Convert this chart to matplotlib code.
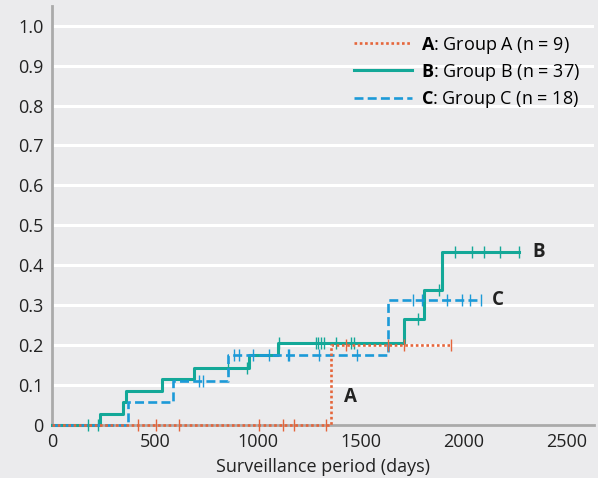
import numpy as np
import matplotlib
matplotlib.use("Agg")
import matplotlib.pyplot as plt

# Kaplan-Meier style cumulative curves
a_times = [0, 1354, 1938]
a_vals = [0, 0.200, 0.200]
a_cens = [415, 505, 614, 1006, 1120, 1176, 1330, 1427, 1630, 1707, 1938]

b_times = [0, 233, 346, 359, 532, 691, 956, 1095, 1709, 1806, 1895, 2268]
b_vals = [0, 0.027, 0.057, 0.085, 0.114, 0.143, 0.174, 0.204, 0.265, 0.337, 0.433, 0.433]
b_cens = [175, 223, 854, 945, 1102, 1282, 1293, 1304, 1320, 1379, 1453, 1468,
          1778, 1880, 1956, 2037, 2099, 2175, 2268]

c_times = [0, 369, 589, 856, 1629, 2083]
c_vals = [0, 0.056, 0.111, 0.176, 0.313, 0.313]
c_cens = [715, 731, 885, 909, 977, 1055, 1144, 1152, 1296, 1479,
          1754, 1798, 1916, 1989, 2029, 2083]

labels = [r"$\mathbf{A}$: Group A (n = 9)",
          r"$\mathbf{B}$: Group B (n = 37)",
          r"$\mathbf{C}$: Group C (n = 18)"]
x_ticks = [0, 500, 1000, 1500, 2000, 2500]
y_ticks = [0, 0.1, 0.2, 0.3, 0.4, 0.5, 0.6, 0.7, 0.8, 0.9, 1.0]
y_ticklabels = ["0", "0.1", "0.2", "0.3", "0.4", "0.5", "0.6", "0.7", "0.8", "0.9", "1.0"]

bg = "#ebebed"
col_a = "#e5653b"
col_b = "#13a898"
col_c = "#1c9ad8"

plt.rcParams["font.family"] = ["Open Sans", "DejaVu Sans"]
plt.rcParams["mathtext.fontset"] = "custom"
plt.rcParams["mathtext.rm"] = "Open Sans"
plt.rcParams["mathtext.bf"] = "Open Sans:bold"


def level_at(times, vals, t):
    idx = np.searchsorted(times, t, side="right") - 1
    return np.asarray(vals)[idx]


fig = plt.figure(figsize=(5.98, 4.78), dpi=100, facecolor=bg)
ax = fig.add_axes([0.087, 0.1113, 0.906, 0.8766], facecolor=bg)

for y in y_ticks[1:]:
    ax.axhline(y, color="white", lw=2.2, zorder=0)

series = [
    (b_times, b_vals, b_cens, col_b, "-", 2.2, 3),
    (c_times, c_vals, c_cens, col_c, (0, (3.4, 1.6)), 1.9, 4),
    (a_times, a_vals, a_cens, col_a, (0, (1, 1)), 1.9, 5),
]
handles = {}
for times, vals, cens, col, ls, lw, z in series:
    ln, = ax.step(times, vals, where="post", color=col, ls=ls, lw=lw, zorder=z,
                  clip_on=False)
    ax.plot(cens, level_at(times, vals, cens), ls="none", marker="|",
            ms=9, mew=1.0, color=col, zorder=z, clip_on=False)
    handles[col] = ln

ax.legend([handles[col_a], handles[col_b], handles[col_c]], labels,
          loc="upper right", bbox_to_anchor=(0.995, 0.957), frameon=False,
          fontsize=13, handlelength=3.2, handletextpad=0.5, labelspacing=0.34,
          borderaxespad=0.2)

ax.text(1450, 0.07, "A", fontsize=13.5, fontweight="bold", color="#222222",
        ha="center", va="center")
ax.text(2362, 0.433, "B", fontsize=13.5, fontweight="bold", color="#222222",
        ha="center", va="center")
ax.text(2166, 0.313, "C", fontsize=13.5, fontweight="bold", color="#222222",
        ha="center", va="center")

ax.set_xlim(0, 2630)
ax.set_ylim(0, 1.05)
ax.set_xticks(x_ticks)
ax.set_yticks(y_ticks)
ax.set_yticklabels(y_ticklabels)
ax.tick_params(length=0, labelsize=13, colors="#222222", pad=6)
ax.set_xlabel("Surveillance period (days)", fontsize=13, color="#222222", labelpad=5)

for side in ["top", "right"]:
    ax.spines[side].set_visible(False)
for side in ["left", "bottom"]:
    ax.spines[side].set_color("#aaaaaa")
    ax.spines[side].set_linewidth(2)

fig.savefig("out.png", dpi=100, facecolor=bg)
